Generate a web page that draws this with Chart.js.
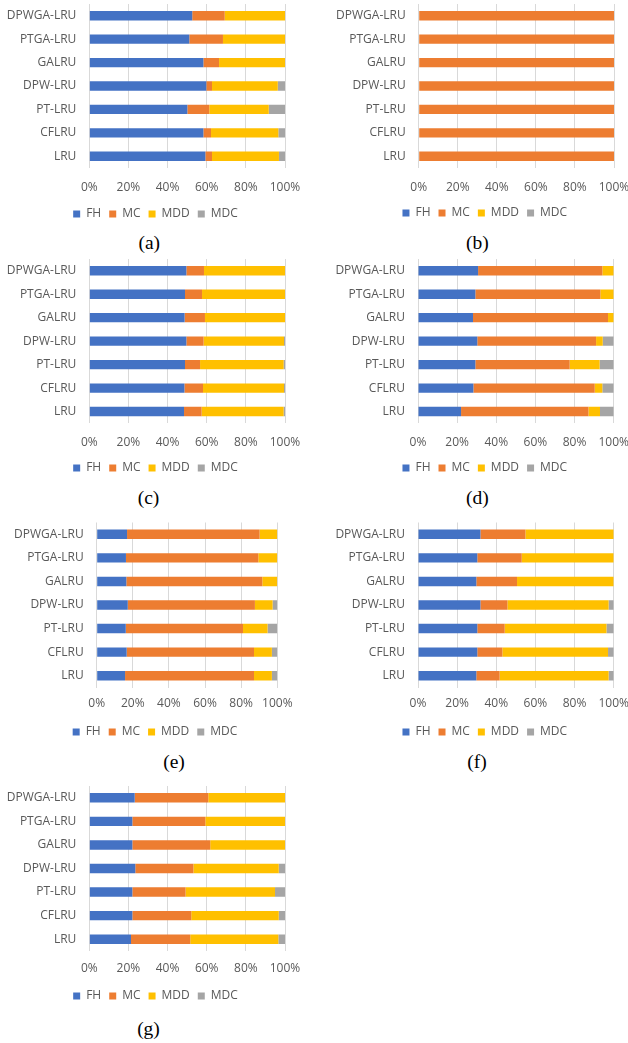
<!DOCTYPE html>
<html>
<head>
<meta charset="utf-8">
<script src="https://cdn.jsdelivr.net/npm/chart.js@4.4.1/dist/chart.umd.min.js"></script>
<style>
  html, body { margin: 0; padding: 0; background: #fff; }
  body { width: 628px; height: 1043px; position: relative; overflow: hidden; }
  canvas { position: absolute; }
  .cap {
    position: absolute;
    font-family: 'Liberation Serif', 'Times New Roman', serif;
    font-size: 19.5px;
    line-height: 19.5px;
    color: #000;
    transform: translate(-50%, -50%);
    white-space: nowrap;
  }
</style>
</head>
<body>
<script>
// Replacement policies, listed top to bottom as they appear on each axis
const methods = ['DPWGA-LRU', 'PTGA-LRU', 'GALRU', 'DPW-LRU', 'PT-LRU', 'CFLRU', 'LRU'];
const seriesNames = ['FH', 'MC', 'MDD', 'MDC'];
const tickLabels = ['0%', '20%', '40%', '60%', '80%', '100%'];

// (a)
const fh_a  = [52.6, 51.1, 58.3, 59.8, 50.1, 58.3, 59.3];
const mc_a  = [16.6, 17.2,  8.0,  2.9, 11.2,  3.9,  3.4];
const mdd_a = [30.8, 31.7, 33.7, 33.6, 30.4, 34.4, 34.2];
const mdc_a = [ 0.0,  0.0,  0.0,  3.7,  8.3,  3.4,  3.1];
// (b)
const fh_b  = [0, 0, 0, 0, 0, 0, 0];
const mc_b  = [100, 100, 100, 100, 100, 100, 100];
const mdd_b = [0, 0, 0, 0, 0, 0, 0];
const mdc_b = [0, 0, 0, 0, 0, 0, 0];
// (c)
const fh_c  = [49.6, 48.9, 48.7, 49.6, 48.9, 48.6, 48.4];
const mc_c  = [ 9.0,  8.7, 10.4,  8.8,  7.7,  9.5,  9.0];
const mdd_c = [41.4, 42.4, 40.9, 41.1, 42.7, 41.4, 41.9];
const mdc_c = [ 0.0,  0.0,  0.0,  0.5,  0.7,  0.5,  0.7];
// (d)
const fh_d  = [30.7, 29.3, 28.1, 30.3, 29.3, 28.3, 22.0];
const mc_d  = [63.5, 63.9, 69.0, 60.7, 48.2, 62.0, 65.1];
const mdd_d = [ 5.8,  6.8,  2.9,  3.4, 15.3,  3.9,  5.9];
const mdc_d = [ 0.0,  0.0,  0.0,  5.6,  7.2,  5.8,  7.0];
// (e)
const fh_e  = [16.8, 16.2, 16.4, 17.2, 16.1, 16.6, 15.7];
const mc_e  = [73.4, 73.3, 75.3, 70.4, 64.9, 70.5, 71.4];
const mdd_e = [ 9.8, 10.5,  8.3,  9.8, 13.6,  9.9,  9.9];
const mdc_e = [ 0.0,  0.0,  0.0,  2.6,  5.4,  3.0,  3.0];
// (f)
const fh_f  = [31.9, 30.3, 29.8, 31.9, 30.3, 30.3, 29.8];
const mc_f  = [23.0, 22.7, 20.8, 13.8, 14.0, 12.8, 11.9];
const mdd_f = [45.1, 47.0, 49.4, 51.7, 52.0, 54.0, 55.7];
const mdc_f = [ 0.0,  0.0,  0.0,  2.6,  3.7,  2.9,  2.6];
// (g)
const fh_g  = [23.2, 22.0, 22.0, 23.5, 22.0, 22.0, 21.3];
const mc_g  = [37.6, 37.3, 39.8, 29.7, 27.2, 30.1, 30.3];
const mdd_g = [39.2, 40.7, 38.2, 43.6, 45.7, 44.7, 45.0];
const mdc_g = [ 0.0,  0.0,  0.0,  3.2,  5.1,  3.2,  3.4];

const seriesColors = ['#4472C4', '#ED7D31', '#FFC000', '#A5A5A5'];
const textColor = '#595959';
const gridColor = '#D9D9D9';
const labelFont = { family: "'Open Sans', sans-serif", size: 12 };

// Page placement of every panel: plot area edges, tick row, legend row, caption
const panels = [
  { cap: '(a)', data: [fh_a, mc_a, mdd_a, mdc_a],
    g: { left: 0,   top: 0,   w: 314, areaL: 89.3,  areaR: 285,   areaT: 4,     areaB: 168,   tickY: 187.3, legendY: 213.5, legendCX: 155.5, capX: 149.3, capY: 243 } },
  { cap: '(b)', data: [fh_b, mc_b, mdd_b, mdc_b],
    g: { left: 314, top: 0,   w: 314, areaL: 418.7, areaR: 614,   areaT: 4,     areaB: 168,   tickY: 187.3, legendY: 213.0, legendCX: 484.8, capX: 477.3, capY: 243 } },
  { cap: '(c)', data: [fh_c, mc_c, mdd_c, mdc_c],
    g: { left: 0,   top: 255, w: 314, areaL: 89.3,  areaR: 285,   areaT: 259,   areaB: 423.3, tickY: 442.3, legendY: 468.0, legendCX: 155.5, capX: 148.5, capY: 497.5 } },
  { cap: '(d)', data: [fh_d, mc_d, mdd_d, mdc_d],
    g: { left: 314, top: 255, w: 314, areaL: 418,   areaR: 613.7, areaT: 259,   areaB: 423.3, tickY: 442.3, legendY: 468.0, legendCX: 484.8, capX: 477.3, capY: 497.5 } },
  { cap: '(e)', data: [fh_e, mc_e, mdd_e, mdc_e],
    g: { left: 0,   top: 510, w: 314, areaL: 96.7,  areaR: 277.3, areaT: 522.5, areaB: 687.5, tickY: 704,   legendY: 731.7, legendCX: 155,   capX: 174,   capY: 761.5 } },
  { cap: '(f)', data: [fh_f, mc_f, mdd_f, mdc_f],
    g: { left: 314, top: 510, w: 314, areaL: 418,   areaR: 613.7, areaT: 522.5, areaB: 687.5, tickY: 704,   legendY: 731.7, legendCX: 484.8, capX: 477,   capY: 761.5 } },
  { cap: '(g)', data: [fh_g, mc_g, mdd_g, mdc_g],
    g: { left: 0,   top: 770, w: 314, areaL: 89.3,  areaR: 285,   areaT: 786,   areaB: 951,   tickY: 969,   legendY: 995.5, legendCX: 155.5, capX: 148.5, capY: 1028.5 } }
];

const LEGEND_PAD = 8;
const LEGEND_H = labelFont.size + LEGEND_PAD + 10;      // single legend row
const LEGEND_TEXT_OFF = LEGEND_H - LEGEND_PAD - labelFont.size / 2;

function drawPanel(p) {
  const g = p.g;
  const W = g.w;
  const H = Math.round(g.legendY - g.top + LEGEND_TEXT_OFF);
  // the legend row is centred between the left edge and (W - pr)
  const pr = W - 2 * (g.legendCX - g.left);

  const canvas = document.createElement('canvas');
  canvas.width = W; canvas.height = H;
  canvas.style.left = g.left + 'px';
  canvas.style.top = g.top + 'px';
  canvas.style.width = W + 'px';
  canvas.style.height = H + 'px';
  document.body.appendChild(canvas);

  const yWidth = g.areaL - g.left;
  const xRightPad = W - (g.areaR - g.left);
  const xHeight = (H - LEGEND_H) - (g.areaB - g.top);
  const tickPad = g.tickY - g.areaB - labelFont.size * 0.6;

  new Chart(canvas, {
    type: 'bar',
    data: {
      labels: methods,
      datasets: seriesNames.map((name, i) => ({
        label: name,
        data: p.data[i],
        backgroundColor: seriesColors[i],
        borderWidth: 0,
        categoryPercentage: 0.4,
        barPercentage: 1
      }))
    },
    options: {
      indexAxis: 'y',
      responsive: false,
      animation: false,
      layout: { padding: { top: g.areaT - g.top, left: 0, right: pr, bottom: 0 } },
      scales: {
        x: {
          stacked: true, min: 0, max: 100,
          grid: { color: gridColor, lineWidth: 1, drawTicks: false },
          border: { display: false },
          ticks: {
            stepSize: 20, padding: tickPad, maxRotation: 0, autoSkip: false,
            color: textColor, font: labelFont,
            callback: v => tickLabels[Math.round(v / 20)]
          },
          afterFit: s => { s.height = xHeight; s.paddingLeft = 0; s.paddingRight = xRightPad; }
        },
        y: {
          stacked: true,
          grid: { display: false, drawTicks: false },
          border: { display: false },
          ticks: { padding: 13, color: textColor, font: labelFont },
          afterFit: s => { s.width = yWidth; s.paddingTop = 0; s.paddingBottom = 0; }
        }
      },
      plugins: {
        legend: {
          position: 'bottom',
          labels: { boxWidth: 7, boxHeight: 7, padding: LEGEND_PAD, color: textColor, font: labelFont }
        },
        tooltip: { enabled: false }
      }
    }
  });

  const cap = document.createElement('div');
  cap.className = 'cap';
  cap.textContent = p.cap;
  cap.style.left = g.capX + 'px';
  cap.style.top = g.capY + 'px';
  document.body.appendChild(cap);
}

panels.forEach(drawPanel);
</script>
</body>
</html>
